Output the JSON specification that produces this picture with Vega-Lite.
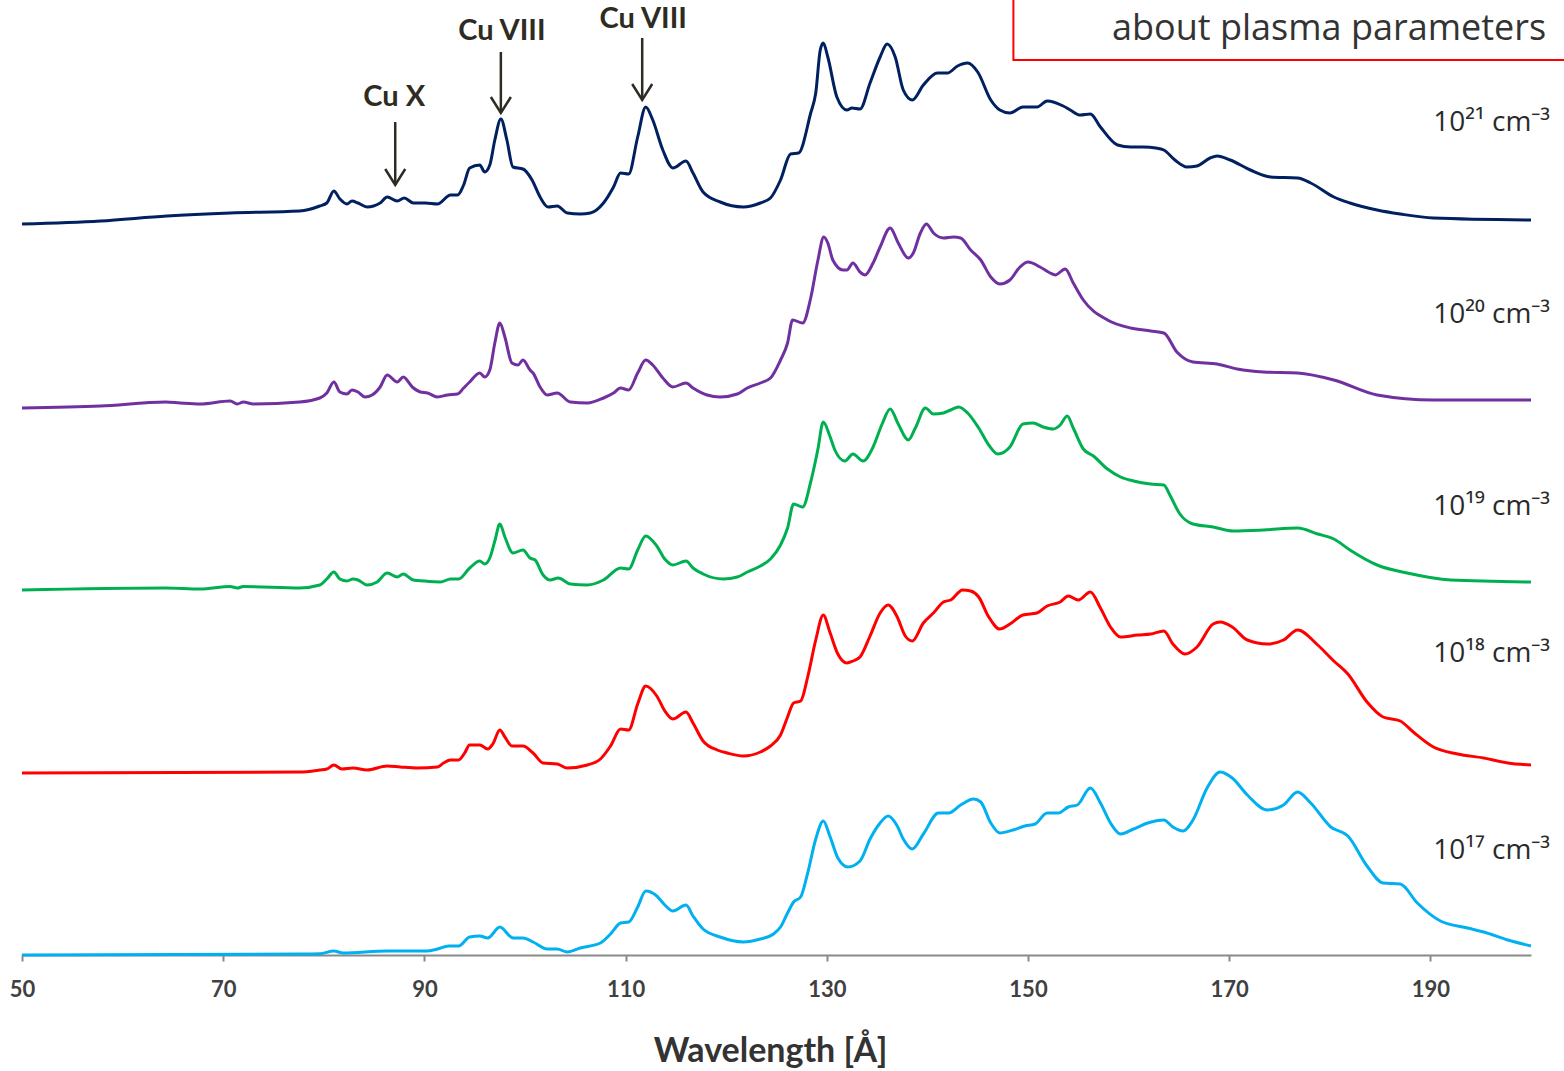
{
  "$schema": "https://vega.github.io/schema/vega-lite/v6.json",
  "width": 1509,
  "height": 955,
  "autosize": {"type": "none"},
  "padding": {"left": 22, "top": 0, "right": 33, "bottom": 116},
  "background": "white",
  "config": {"view": {"stroke": null}},
  "datasets": {
    "spec": [
      {"s":"1e21","x":50,"y":731},{"s":"1e21","x":57.8,"y":734},{"s":"1e21","x":64.4,"y":739},{"s":"1e21","x":70.7,"y":742},{"s":"1e21","x":77.6,"y":744},{"s":"1e21","x":79.6,"y":749},{"s":"1e21","x":80.3,"y":752},{"s":"1e21","x":81.0,"y":764},{"s":"1e21","x":81.6,"y":756},{"s":"1e21","x":82.3,"y":751},{"s":"1e21","x":82.8,"y":754},{"s":"1e21","x":83.4,"y":752},{"s":"1e21","x":84.3,"y":748},{"s":"1e21","x":85.6,"y":752},{"s":"1e21","x":86.3,"y":758},{"s":"1e21","x":87.3,"y":754},{"s":"1e21","x":88.0,"y":757},{"s":"1e21","x":88.9,"y":752},{"s":"1e21","x":90.1,"y":752},{"s":"1e21","x":91.3,"y":751},{"s":"1e21","x":92.6,"y":760},{"s":"1e21","x":93.3,"y":760},{"s":"1e21","x":93.9,"y":770},{"s":"1e21","x":94.5,"y":787},{"s":"1e21","x":95.5,"y":790},{"s":"1e21","x":96.0,"y":783},{"s":"1e21","x":96.5,"y":790},{"s":"1e21","x":97.0,"y":815},{"s":"1e21","x":97.6,"y":836},{"s":"1e21","x":98.2,"y":815},{"s":"1e21","x":98.8,"y":788},{"s":"1e21","x":99.8,"y":786},{"s":"1e21","x":100.7,"y":775},{"s":"1e21","x":101.5,"y":758},{"s":"1e21","x":102.3,"y":748},{"s":"1e21","x":103.2,"y":749},{"s":"1e21","x":104.2,"y":742},{"s":"1e21","x":105.5,"y":741},{"s":"1e21","x":106.5,"y":742},{"s":"1e21","x":107.8,"y":752},{"s":"1e21","x":108.8,"y":768},{"s":"1e21","x":109.5,"y":782},{"s":"1e21","x":110.3,"y":781},{"s":"1e21","x":111.2,"y":818},{"s":"1e21","x":112.0,"y":848},{"s":"1e21","x":112.7,"y":835},{"s":"1e21","x":113.7,"y":805},{"s":"1e21","x":114.7,"y":787},{"s":"1e21","x":116.0,"y":794},{"s":"1e21","x":116.7,"y":782},{"s":"1e21","x":117.7,"y":763},{"s":"1e21","x":119.4,"y":753},{"s":"1e21","x":121.7,"y":748},{"s":"1e21","x":123.4,"y":752},{"s":"1e21","x":124.4,"y":757},{"s":"1e21","x":125.4,"y":775},{"s":"1e21","x":126.4,"y":801},{"s":"1e21","x":127.2,"y":802},{"s":"1e21","x":128.4,"y":842},{"s":"1e21","x":128.9,"y":862},{"s":"1e21","x":129.35,"y":905},{"s":"1e21","x":129.65,"y":912},{"s":"1e21","x":130.1,"y":898},{"s":"1e21","x":131.0,"y":858},{"s":"1e21","x":132.0,"y":845},{"s":"1e21","x":132.5,"y":847},{"s":"1e21","x":133.3,"y":846},{"s":"1e21","x":134.3,"y":872},{"s":"1e21","x":135.3,"y":898},{"s":"1e21","x":136.0,"y":911},{"s":"1e21","x":136.8,"y":898},{"s":"1e21","x":137.6,"y":865},{"s":"1e21","x":138.5,"y":855},{"s":"1e21","x":139.6,"y":870},{"s":"1e21","x":141.0,"y":882},{"s":"1e21","x":142.0,"y":882},{"s":"1e21","x":143.0,"y":889},{"s":"1e21","x":144.0,"y":892},{"s":"1e21","x":145.0,"y":883},{"s":"1e21","x":146.3,"y":855},{"s":"1e21","x":147.2,"y":845},{"s":"1e21","x":148.2,"y":842},{"s":"1e21","x":149.5,"y":848},{"s":"1e21","x":150.9,"y":848},{"s":"1e21","x":151.9,"y":854},{"s":"1e21","x":153.5,"y":849},{"s":"1e21","x":154.2,"y":845},{"s":"1e21","x":155.2,"y":840},{"s":"1e21","x":156.2,"y":841},{"s":"1e21","x":157.2,"y":828},{"s":"1e21","x":158.9,"y":810},{"s":"1e21","x":160.2,"y":808},{"s":"1e21","x":161.5,"y":808},{"s":"1e21","x":162.7,"y":807},{"s":"1e21","x":163.5,"y":805},{"s":"1e21","x":164.6,"y":795},{"s":"1e21","x":165.8,"y":788},{"s":"1e21","x":166.8,"y":789},{"s":"1e21","x":168.1,"y":797},{"s":"1e21","x":168.8,"y":799},{"s":"1e21","x":170.1,"y":795},{"s":"1e21","x":172.1,"y":785},{"s":"1e21","x":174.1,"y":778},{"s":"1e21","x":176.8,"y":777},{"s":"1e21","x":178.1,"y":772},{"s":"1e21","x":180.4,"y":758},{"s":"1e21","x":182.0,"y":752},{"s":"1e21","x":184.7,"y":745},{"s":"1e21","x":187.0,"y":741},{"s":"1e21","x":190.3,"y":737},{"s":"1e21","x":200,"y":735},

      {"s":"1e20","x":50,"y":547},{"s":"1e20","x":57.8,"y":549},{"s":"1e20","x":64.3,"y":553},{"s":"1e20","x":65.7,"y":552},{"s":"1e20","x":67.7,"y":551},{"s":"1e20","x":70.7,"y":554},{"s":"1e20","x":71.4,"y":551},{"s":"1e20","x":72.0,"y":553},{"s":"1e20","x":73.0,"y":551},{"s":"1e20","x":77.6,"y":553},{"s":"1e20","x":79.6,"y":557},{"s":"1e20","x":80.3,"y":562},{"s":"1e20","x":81.0,"y":573},{"s":"1e20","x":81.6,"y":563},{"s":"1e20","x":82.3,"y":561},{"s":"1e20","x":82.8,"y":565},{"s":"1e20","x":83.4,"y":563},{"s":"1e20","x":84.1,"y":558},{"s":"1e20","x":84.8,"y":560},{"s":"1e20","x":85.6,"y":568},{"s":"1e20","x":86.3,"y":580},{"s":"1e20","x":87.3,"y":573},{"s":"1e20","x":87.9,"y":578},{"s":"1e20","x":88.8,"y":568},{"s":"1e20","x":89.6,"y":563},{"s":"1e20","x":90.3,"y":562},{"s":"1e20","x":91.3,"y":558},{"s":"1e20","x":92.3,"y":560},{"s":"1e20","x":93.3,"y":561},{"s":"1e20","x":93.9,"y":567},{"s":"1e20","x":94.5,"y":573},{"s":"1e20","x":95.5,"y":582},{"s":"1e20","x":96.0,"y":578},{"s":"1e20","x":96.5,"y":585},{"s":"1e20","x":97.0,"y":612},{"s":"1e20","x":97.5,"y":632},{"s":"1e20","x":98.0,"y":618},{"s":"1e20","x":98.7,"y":592},{"s":"1e20","x":99.3,"y":590},{"s":"1e20","x":99.8,"y":595},{"s":"1e20","x":100.5,"y":585},{"s":"1e20","x":100.8,"y":582},{"s":"1e20","x":101.5,"y":568},{"s":"1e20","x":102.2,"y":560},{"s":"1e20","x":103.2,"y":562},{"s":"1e20","x":104.5,"y":553},{"s":"1e20","x":106.2,"y":552},{"s":"1e20","x":107.8,"y":557},{"s":"1e20","x":108.8,"y":562},{"s":"1e20","x":109.5,"y":567},{"s":"1e20","x":110.3,"y":565},{"s":"1e20","x":111.2,"y":582},{"s":"1e20","x":112.0,"y":595},{"s":"1e20","x":112.7,"y":590},{"s":"1e20","x":113.7,"y":577},{"s":"1e20","x":114.7,"y":568},{"s":"1e20","x":116.0,"y":572},{"s":"1e20","x":116.7,"y":567},{"s":"1e20","x":118.1,"y":560},{"s":"1e20","x":119.4,"y":558},{"s":"1e20","x":121.1,"y":561},{"s":"1e20","x":122.1,"y":567},{"s":"1e20","x":123.4,"y":572},{"s":"1e20","x":124.4,"y":577},{"s":"1e20","x":125.4,"y":595},{"s":"1e20","x":126.1,"y":612},{"s":"1e20","x":126.6,"y":635},{"s":"1e20","x":127.6,"y":632},{"s":"1e20","x":128.4,"y":657},{"s":"1e20","x":129.1,"y":694},{"s":"1e20","x":129.7,"y":718},{"s":"1e20","x":130.1,"y":712},{"s":"1e20","x":130.6,"y":695},{"s":"1e20","x":131.6,"y":685},{"s":"1e20","x":132.0,"y":685},{"s":"1e20","x":132.6,"y":692},{"s":"1e20","x":133.3,"y":683},{"s":"1e20","x":133.8,"y":680},{"s":"1e20","x":134.6,"y":692},{"s":"1e20","x":135.3,"y":708},{"s":"1e20","x":136.3,"y":727},{"s":"1e20","x":137.1,"y":712},{"s":"1e20","x":138.1,"y":697},{"s":"1e20","x":138.6,"y":702},{"s":"1e20","x":139.3,"y":722},{"s":"1e20","x":139.9,"y":731},{"s":"1e20","x":140.6,"y":722},{"s":"1e20","x":141.6,"y":717},{"s":"1e20","x":142.6,"y":718},{"s":"1e20","x":143.3,"y":717},{"s":"1e20","x":144.3,"y":705},{"s":"1e20","x":145.3,"y":695},{"s":"1e20","x":146.3,"y":678},{"s":"1e20","x":147.2,"y":671},{"s":"1e20","x":148.2,"y":675},{"s":"1e20","x":149.2,"y":688},{"s":"1e20","x":150.0,"y":693},{"s":"1e20","x":151.2,"y":688},{"s":"1e20","x":152.2,"y":682},{"s":"1e20","x":152.7,"y":680},{"s":"1e20","x":153.7,"y":686},{"s":"1e20","x":154.5,"y":672},{"s":"1e20","x":155.5,"y":655},{"s":"1e20","x":157.9,"y":635},{"s":"1e20","x":160.2,"y":627},{"s":"1e20","x":162.2,"y":624},{"s":"1e20","x":163.5,"y":622},{"s":"1e20","x":164.8,"y":603},{"s":"1e20","x":166.4,"y":593},{"s":"1e20","x":168.8,"y":591},{"s":"1e20","x":170.8,"y":586},{"s":"1e20","x":173.4,"y":583},{"s":"1e20","x":176.8,"y":582},{"s":"1e20","x":180.4,"y":575},{"s":"1e20","x":184.7,"y":560},{"s":"1e20","x":190.3,"y":555},{"s":"1e20","x":200,"y":555},

      {"s":"1e19","x":50,"y":365},{"s":"1e19","x":64.3,"y":367},{"s":"1e19","x":67.7,"y":366},{"s":"1e19","x":70.7,"y":368.5},{"s":"1e19","x":71.4,"y":367},{"s":"1e19","x":72.0,"y":368.5},{"s":"1e19","x":77.6,"y":367},{"s":"1e19","x":79.6,"y":370},{"s":"1e19","x":80.3,"y":376},{"s":"1e19","x":81.0,"y":383},{"s":"1e19","x":81.6,"y":376},{"s":"1e19","x":82.3,"y":374},{"s":"1e19","x":82.9,"y":376},{"s":"1e19","x":83.4,"y":375},{"s":"1e19","x":84.3,"y":370},{"s":"1e19","x":85.3,"y":373},{"s":"1e19","x":86.3,"y":382},{"s":"1e19","x":87.3,"y":378},{"s":"1e19","x":87.9,"y":381},{"s":"1e19","x":88.9,"y":375},{"s":"1e19","x":89.9,"y":374},{"s":"1e19","x":91.6,"y":373},{"s":"1e19","x":92.6,"y":376},{"s":"1e19","x":93.4,"y":376},{"s":"1e19","x":94.5,"y":387},{"s":"1e19","x":95.5,"y":394},{"s":"1e19","x":96.0,"y":391},{"s":"1e19","x":96.5,"y":397},{"s":"1e19","x":97.0,"y":414},{"s":"1e19","x":97.5,"y":431},{"s":"1e19","x":98.0,"y":418},{"s":"1e19","x":98.8,"y":402},{"s":"1e19","x":99.8,"y":405},{"s":"1e19","x":100.5,"y":397},{"s":"1e19","x":101.0,"y":395},{"s":"1e19","x":101.8,"y":380},{"s":"1e19","x":102.5,"y":375},{"s":"1e19","x":103.3,"y":377},{"s":"1e19","x":104.5,"y":371},{"s":"1e19","x":106.2,"y":370},{"s":"1e19","x":107.8,"y":375},{"s":"1e19","x":109.5,"y":387},{"s":"1e19","x":110.3,"y":386},{"s":"1e19","x":111.2,"y":405},{"s":"1e19","x":112.0,"y":419},{"s":"1e19","x":113.1,"y":409},{"s":"1e19","x":113.9,"y":396},{"s":"1e19","x":114.7,"y":390},{"s":"1e19","x":116.0,"y":394},{"s":"1e19","x":116.7,"y":387},{"s":"1e19","x":117.7,"y":381},{"s":"1e19","x":119.7,"y":376},{"s":"1e19","x":121.1,"y":378},{"s":"1e19","x":122.1,"y":383},{"s":"1e19","x":123.4,"y":389},{"s":"1e19","x":124.4,"y":396},{"s":"1e19","x":125.4,"y":410},{"s":"1e19","x":126.1,"y":427},{"s":"1e19","x":126.7,"y":451},{"s":"1e19","x":127.6,"y":448},{"s":"1e19","x":128.4,"y":473},{"s":"1e19","x":129.1,"y":505},{"s":"1e19","x":129.65,"y":533},{"s":"1e19","x":130.3,"y":519},{"s":"1e19","x":130.8,"y":505},{"s":"1e19","x":131.8,"y":494},{"s":"1e19","x":132.6,"y":501},{"s":"1e19","x":133.6,"y":494},{"s":"1e19","x":134.6,"y":508},{"s":"1e19","x":135.5,"y":531},{"s":"1e19","x":136.3,"y":546},{"s":"1e19","x":137.1,"y":531},{"s":"1e19","x":138.1,"y":515},{"s":"1e19","x":138.8,"y":527},{"s":"1e19","x":139.8,"y":547},{"s":"1e19","x":140.6,"y":541},{"s":"1e19","x":141.6,"y":542},{"s":"1e19","x":142.3,"y":545},{"s":"1e19","x":143.1,"y":548},{"s":"1e19","x":144.0,"y":542},{"s":"1e19","x":145.1,"y":527},{"s":"1e19","x":146.1,"y":510},{"s":"1e19","x":147.0,"y":501},{"s":"1e19","x":148.2,"y":508},{"s":"1e19","x":149.5,"y":531},{"s":"1e19","x":150.5,"y":532},{"s":"1e19","x":151.5,"y":528},{"s":"1e19","x":152.5,"y":526},{"s":"1e19","x":153.2,"y":530},{"s":"1e19","x":153.9,"y":539},{"s":"1e19","x":154.5,"y":527},{"s":"1e19","x":155.5,"y":506},{"s":"1e19","x":156.5,"y":499},{"s":"1e19","x":157.9,"y":486},{"s":"1e19","x":159.2,"y":478},{"s":"1e19","x":160.5,"y":474},{"s":"1e19","x":162.2,"y":471},{"s":"1e19","x":163.5,"y":470},{"s":"1e19","x":164.1,"y":460},{"s":"1e19","x":165.1,"y":441},{"s":"1e19","x":166.4,"y":431},{"s":"1e19","x":168.4,"y":428},{"s":"1e19","x":170.4,"y":424},{"s":"1e19","x":173.4,"y":425},{"s":"1e19","x":176.8,"y":427},{"s":"1e19","x":178.8,"y":421},{"s":"1e19","x":180.4,"y":416},{"s":"1e19","x":182.0,"y":405},{"s":"1e19","x":184.7,"y":390},{"s":"1e19","x":187.7,"y":382},{"s":"1e19","x":192.0,"y":375},{"s":"1e19","x":200,"y":373},

      {"s":"1e18","x":50,"y":182},{"s":"1e18","x":77.6,"y":183},{"s":"1e18","x":79.6,"y":185},{"s":"1e18","x":80.3,"y":186},{"s":"1e18","x":81.0,"y":190},{"s":"1e18","x":81.8,"y":186},{"s":"1e18","x":82.9,"y":187},{"s":"1e18","x":84.3,"y":185},{"s":"1e18","x":86.3,"y":189},{"s":"1e18","x":87.6,"y":188},{"s":"1e18","x":89.3,"y":187},{"s":"1e18","x":91.3,"y":188},{"s":"1e18","x":91.9,"y":192},{"s":"1e18","x":92.6,"y":195},{"s":"1e18","x":93.4,"y":195},{"s":"1e18","x":94.0,"y":202},{"s":"1e18","x":94.5,"y":210},{"s":"1e18","x":95.5,"y":210},{"s":"1e18","x":96.3,"y":206},{"s":"1e18","x":96.8,"y":211},{"s":"1e18","x":97.5,"y":225},{"s":"1e18","x":98.0,"y":218},{"s":"1e18","x":98.7,"y":209},{"s":"1e18","x":99.8,"y":209},{"s":"1e18","x":100.8,"y":202},{"s":"1e18","x":101.8,"y":192},{"s":"1e18","x":103.2,"y":191},{"s":"1e18","x":104.2,"y":187},{"s":"1e18","x":106.2,"y":190},{"s":"1e18","x":107.5,"y":196},{"s":"1e18","x":108.5,"y":209},{"s":"1e18","x":109.5,"y":226},{"s":"1e18","x":110.3,"y":225},{"s":"1e18","x":111.2,"y":251},{"s":"1e18","x":112.0,"y":269},{"s":"1e18","x":113.1,"y":259},{"s":"1e18","x":113.9,"y":244},{"s":"1e18","x":114.7,"y":236},{"s":"1e18","x":116.0,"y":243},{"s":"1e18","x":116.7,"y":232},{"s":"1e18","x":117.7,"y":214},{"s":"1e18","x":119.1,"y":205},{"s":"1e18","x":120.1,"y":202},{"s":"1e18","x":121.7,"y":199},{"s":"1e18","x":123.4,"y":203},{"s":"1e18","x":124.4,"y":209},{"s":"1e18","x":125.4,"y":220},{"s":"1e18","x":126.1,"y":238},{"s":"1e18","x":126.7,"y":252},{"s":"1e18","x":127.4,"y":254},{"s":"1e18","x":128.1,"y":278},{"s":"1e18","x":128.9,"y":315},{"s":"1e18","x":129.65,"y":340},{"s":"1e18","x":130.3,"y":323},{"s":"1e18","x":131.1,"y":301},{"s":"1e18","x":132.0,"y":292},{"s":"1e18","x":132.6,"y":294},{"s":"1e18","x":133.3,"y":298},{"s":"1e18","x":134.3,"y":319},{"s":"1e18","x":135.3,"y":342},{"s":"1e18","x":136.1,"y":350},{"s":"1e18","x":137.0,"y":338},{"s":"1e18","x":137.8,"y":319},{"s":"1e18","x":138.5,"y":314},{"s":"1e18","x":139.6,"y":332},{"s":"1e18","x":140.6,"y":342},{"s":"1e18","x":141.6,"y":353},{"s":"1e18","x":142.3,"y":355},{"s":"1e18","x":143.5,"y":365},{"s":"1e18","x":144.3,"y":364},{"s":"1e18","x":145.1,"y":358},{"s":"1e18","x":146.1,"y":338},{"s":"1e18","x":147.2,"y":326},{"s":"1e18","x":148.2,"y":331},{"s":"1e18","x":149.5,"y":340},{"s":"1e18","x":150.9,"y":342},{"s":"1e18","x":151.9,"y":349},{"s":"1e18","x":153.2,"y":353},{"s":"1e18","x":154.0,"y":359},{"s":"1e18","x":155.0,"y":355},{"s":"1e18","x":156.2,"y":363},{"s":"1e18","x":157.2,"y":347},{"s":"1e18","x":158.2,"y":328},{"s":"1e18","x":159.2,"y":318},{"s":"1e18","x":160.9,"y":320},{"s":"1e18","x":162.2,"y":321},{"s":"1e18","x":163.5,"y":324},{"s":"1e18","x":164.4,"y":311},{"s":"1e18","x":165.6,"y":301},{"s":"1e18","x":166.8,"y":308},{"s":"1e18","x":168.4,"y":331},{"s":"1e18","x":169.1,"y":333},{"s":"1e18","x":170.3,"y":328},{"s":"1e18","x":171.8,"y":315},{"s":"1e18","x":173.8,"y":311},{"s":"1e18","x":175.4,"y":315},{"s":"1e18","x":176.8,"y":325},{"s":"1e18","x":178.8,"y":310},{"s":"1e18","x":180.4,"y":294},{"s":"1e18","x":181.8,"y":281},{"s":"1e18","x":183.7,"y":253},{"s":"1e18","x":185.3,"y":238},{"s":"1e18","x":187.0,"y":234},{"s":"1e18","x":188.3,"y":223},{"s":"1e18","x":190.3,"y":208},{"s":"1e18","x":192.7,"y":201},{"s":"1e18","x":195.3,"y":197},{"s":"1e18","x":197.7,"y":192},{"s":"1e18","x":200,"y":190},

      {"s":"1e17","x":50,"y":0},{"s":"1e17","x":77.6,"y":1},{"s":"1e17","x":79.6,"y":1.3},{"s":"1e17","x":81.0,"y":4},{"s":"1e17","x":81.9,"y":2},{"s":"1e17","x":86.3,"y":4},{"s":"1e17","x":90.1,"y":4},{"s":"1e17","x":91.3,"y":6},{"s":"1e17","x":92.4,"y":9},{"s":"1e17","x":93.4,"y":9},{"s":"1e17","x":94.5,"y":18},{"s":"1e17","x":95.5,"y":19},{"s":"1e17","x":96.3,"y":17},{"s":"1e17","x":97.5,"y":28},{"s":"1e17","x":98.8,"y":17},{"s":"1e17","x":99.8,"y":17},{"s":"1e17","x":100.8,"y":13},{"s":"1e17","x":102.2,"y":6},{"s":"1e17","x":103.2,"y":6},{"s":"1e17","x":104.2,"y":3},{"s":"1e17","x":105.5,"y":7},{"s":"1e17","x":107.5,"y":12},{"s":"1e17","x":108.5,"y":21},{"s":"1e17","x":109.5,"y":32},{"s":"1e17","x":110.3,"y":33},{"s":"1e17","x":111.2,"y":48},{"s":"1e17","x":112.0,"y":64},{"s":"1e17","x":113.1,"y":59},{"s":"1e17","x":113.9,"y":50},{"s":"1e17","x":114.7,"y":44},{"s":"1e17","x":116.0,"y":50},{"s":"1e17","x":116.7,"y":39},{"s":"1e17","x":117.7,"y":26},{"s":"1e17","x":119.4,"y":18},{"s":"1e17","x":121.7,"y":13},{"s":"1e17","x":123.4,"y":16},{"s":"1e17","x":124.7,"y":21},{"s":"1e17","x":125.4,"y":28},{"s":"1e17","x":126.1,"y":42},{"s":"1e17","x":126.7,"y":53},{"s":"1e17","x":127.4,"y":58},{"s":"1e17","x":128.1,"y":82},{"s":"1e17","x":128.9,"y":116},{"s":"1e17","x":129.65,"y":134},{"s":"1e17","x":130.3,"y":119},{"s":"1e17","x":131.1,"y":97},{"s":"1e17","x":132.1,"y":88},{"s":"1e17","x":133.3,"y":94},{"s":"1e17","x":134.3,"y":116},{"s":"1e17","x":135.3,"y":132},{"s":"1e17","x":136.1,"y":139},{"s":"1e17","x":137.0,"y":129},{"s":"1e17","x":137.6,"y":116},{"s":"1e17","x":138.5,"y":106},{"s":"1e17","x":139.6,"y":121},{"s":"1e17","x":141.1,"y":142},{"s":"1e17","x":142.1,"y":142},{"s":"1e17","x":143.3,"y":150},{"s":"1e17","x":144.6,"y":156},{"s":"1e17","x":145.3,"y":153},{"s":"1e17","x":146.3,"y":132},{"s":"1e17","x":147.2,"y":122},{"s":"1e17","x":148.5,"y":125},{"s":"1e17","x":149.7,"y":129},{"s":"1e17","x":150.7,"y":131},{"s":"1e17","x":151.9,"y":142},{"s":"1e17","x":153.0,"y":142},{"s":"1e17","x":154.0,"y":148},{"s":"1e17","x":154.9,"y":150},{"s":"1e17","x":156.2,"y":167},{"s":"1e17","x":157.2,"y":152},{"s":"1e17","x":158.2,"y":132},{"s":"1e17","x":159.2,"y":121},{"s":"1e17","x":160.5,"y":126},{"s":"1e17","x":161.9,"y":132},{"s":"1e17","x":163.5,"y":135},{"s":"1e17","x":164.4,"y":128},{"s":"1e17","x":165.4,"y":124},{"s":"1e17","x":166.4,"y":135},{"s":"1e17","x":167.8,"y":167},{"s":"1e17","x":169.1,"y":183},{"s":"1e17","x":170.3,"y":177},{"s":"1e17","x":171.8,"y":160},{"s":"1e17","x":173.8,"y":145},{"s":"1e17","x":175.4,"y":150},{"s":"1e17","x":176.8,"y":163},{"s":"1e17","x":178.1,"y":152},{"s":"1e17","x":180.1,"y":128},{"s":"1e17","x":181.8,"y":119},{"s":"1e17","x":183.7,"y":89},{"s":"1e17","x":185.3,"y":72},{"s":"1e17","x":187.0,"y":71},{"s":"1e17","x":188.7,"y":52},{"s":"1e17","x":191.0,"y":34},{"s":"1e17","x":193.7,"y":27},{"s":"1e17","x":195.3,"y":23},{"s":"1e17","x":197.7,"y":15},{"s":"1e17","x":200,"y":9}
    ],
    "labels": [
      {"t":"10²¹ cm⁻³","x":201.9,"y":832},
      {"t":"10²⁰ cm⁻³","x":201.9,"y":640},
      {"t":"10¹⁹ cm⁻³","x":201.9,"y":448},
      {"t":"10¹⁸ cm⁻³","x":201.9,"y":301},
      {"t":"10¹⁷ cm⁻³","x":201.9,"y":104}
    ],
    "ions": [
      {"t":"Cu X","x":87.1,"tx":87.0,"ty":858,"y1":833,"y2":770},
      {"t":"Cu VIII","x":97.6,"tx":97.7,"ty":924,"y1":903,"y2":842},
      {"t":"Cu VIII","x":111.65,"tx":111.75,"ty":936,"y1":917,"y2":855}
    ]
  },
  "layer": [
    {
      "data": {"name": "spec"},
      "mark": {"type": "line", "strokeWidth": 3, "interpolate": "monotone"},
      "encoding": {
        "x": {"field": "x", "type": "quantitative",
              "scale": {"domain": [50, 200], "nice": false, "zero": false},
              "axis": {"values": [50,70,90,110,130,150,170,190], "title": "Wavelength [Å]",
                       "grid": false, "labelFont": "Lato", "labelFontWeight": "bold", "labelFontSize": 22,
                       "labelColor": "#404040", "domainColor": "#898989", "domainWidth": 2, "tickColor": "#898989",
                       "tickWidth": 2, "tickSize": 6, "labelPadding": 18, "labelFlush": false,
                       "titleFont": "Lato", "titleFontWeight": "bold", "titleFontSize": 34, "titleColor": "#333333",
                       "titlePadding": 34, "titleX": 748, "titleAnchor": "middle"}},
        "y": {"field": "y", "type": "quantitative", "scale": {"domain": [0, 955], "nice": false}, "axis": null},
        "color": {"field": "s", "type": "nominal",
                  "scale": {"domain": ["1e21","1e20","1e19","1e18","1e17"],
                            "range": ["#002060","#7030A0","#00B050","#FF0000","#00B0F0"]},
                  "legend": null}
      }
    },
    {
      "data": {"values": [{"x1": 148.55, "x2": 206, "y1": 895, "y2": 975}]},
      "mark": {"type": "rect", "fill": "white", "stroke": "#FF0000", "strokeWidth": 2},
      "encoding": {
        "x": {"field": "x1", "type": "quantitative"}, "x2": {"field": "x2"},
        "y": {"field": "y1", "type": "quantitative"}, "y2": {"field": "y2"}
      }
    },
    {
      "data": {"values": [{"t": "about plasma parameters", "x": 201.5, "y": 926}]},
      "mark": {"type": "text", "align": "right", "baseline": "middle", "font": "Open Sans", "fontSize": 36, "color": "#333333"},
      "encoding": {
        "x": {"field": "x", "type": "quantitative"},
        "y": {"field": "y", "type": "quantitative"},
        "text": {"field": "t"}
      }
    },
    {
      "data": {"name": "ions"},
      "mark": {"type": "rule", "color": "#2E2B22", "strokeWidth": 2.5},
      "encoding": {
        "x": {"field": "x", "type": "quantitative"},
        "y": {"field": "y1", "type": "quantitative"},
        "y2": {"field": "y2"}
      }
    },
    {
      "data": {"name": "ions"},
      "mark": {"type": "point", "shape": "M-1,-1.6L0,0L1,-1.6", "size": 400, "filled": false, "stroke": "#2E2B22", "strokeWidth": 2.5, "opacity": 1},
      "encoding": {
        "x": {"field": "x", "type": "quantitative"},
        "y": {"field": "y2", "type": "quantitative"}
      }
    },
    {
      "data": {"name": "ions"},
      "mark": {"type": "text", "align": "center", "baseline": "middle", "font": "Lato", "fontWeight": "bold", "fontSize": 29, "color": "#2E2B22"},
      "encoding": {
        "x": {"field": "tx", "type": "quantitative"},
        "y": {"field": "ty", "type": "quantitative"},
        "text": {"field": "t"}
      }
    },
    {
      "data": {"name": "labels"},
      "mark": {"type": "text", "align": "right", "baseline": "middle", "font": "Open Sans", "fontSize": 28, "color": "#2B2B2B"},
      "encoding": {
        "x": {"field": "x", "type": "quantitative"},
        "y": {"field": "y", "type": "quantitative"},
        "text": {"field": "t"}
      }
    }
  ]
}
